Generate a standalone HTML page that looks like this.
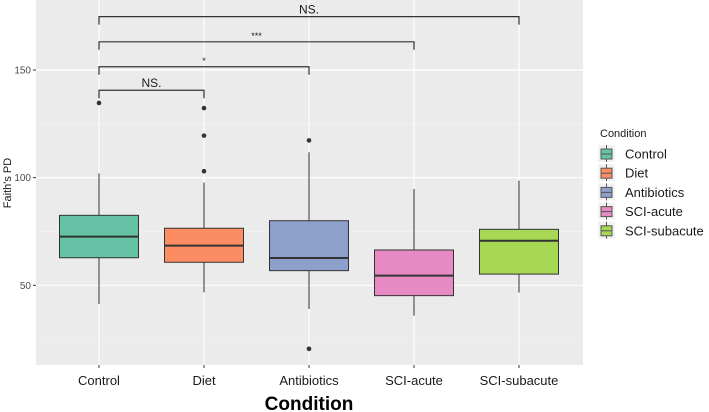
<!DOCTYPE html>
<html><head><meta charset="utf-8"><style>
body{margin:0;background:#fff;width:709px;height:412px;overflow:hidden}
svg{display:block;font-family:"Liberation Sans",sans-serif}
</style></head><body>
<svg id="chart" width="709" height="412"></svg>
<script>
const categories=["Control","Diet","Antibiotics","SCI-acute","SCI-subacute"];
const colors=["#66c2a5","#fc8d62","#8da0cb","#e78ac3","#a6d854"];
const whiskerLow=[41.3,46.7,39,35.9,46.6];
const q1=[62.8,60.7,56.8,45.2,55.2];
const medians=[72.6,68.4,62.7,54.5,70.7];
const q3=[82.5,76.5,80,66.4,76];
const whiskerHigh=[102,97.7,111.8,94.7,98.6];
const outliers=[[134.7],[132.3,119.5,103],[117.3,20.5],[],[]];
const yTicks=[50,100,150];
const yMinor=[25,75,125];
const brackets=[{a:0,b:4,y:174.8,label:"NS."},{a:0,b:3,y:163.1,label:"***"},{a:0,b:2,y:151.5,label:"*"},{a:0,b:1,y:140.6,label:"NS."}];
const svg=document.getElementById('chart');
const NS='http://www.w3.org/2000/svg';
const L=36,R=583,T=0,B=365;
const y=v=>285.3-(v-50)*2.153;
const x=i=>99+i*105;
function mk(tag,attrs,parent){const e=document.createElementNS(NS,tag);for(const k in attrs)e.setAttribute(k,attrs[k]);(parent||svg).appendChild(e);return e;}
const panel=mk('rect',{x:L,y:T,width:R-L,height:B-T,fill:'#ebebeb'});


yMinor.forEach(v=>{const g=mk('line',{x1:L,x2:R,y1:y(v),y2:y(v),stroke:'#f5f5f5','stroke-width':0.6});

});
yTicks.forEach(v=>{const g=mk('line',{x1:L,x2:R,y1:y(v),y2:y(v),stroke:'#fff','stroke-width':1.2});


mk('line',{x1:L-3,x2:L,y1:y(v),y2:y(v),stroke:'#333'});
const t=mk('text',{x:L-5,y:y(v)+3.5,'text-anchor':'end','font-size':10,fill:'#4d4d4d'});t.textContent=v;

});
categories.forEach((c,i)=>{const g=mk('line',{x1:x(i),x2:x(i),y1:T,y2:B,stroke:'#fff','stroke-width':1.2});

});
categories.forEach((c,i)=>{
const grp=mk('g',{});


mk('line',{x1:x(i),x2:x(i),y1:y(whiskerHigh[i]),y2:y(q3[i]),stroke:'#333','stroke-width':1},grp);
mk('line',{x1:x(i),x2:x(i),y1:y(q1[i]),y2:y(whiskerLow[i]),stroke:'#333','stroke-width':1},grp);
mk('rect',{x:x(i)-39.5,y:y(q3[i]),width:79,height:y(q1[i])-y(q3[i]),fill:colors[i],stroke:'#333','stroke-width':1},grp);
mk('line',{x1:x(i)-39.5,x2:x(i)+39.5,y1:y(medians[i]),y2:y(medians[i]),stroke:'#333','stroke-width':2},grp);
outliers[i].forEach(o=>{const p=mk('circle',{cx:x(i),cy:y(o),r:2.3,fill:'#333'},grp);

});
mk('line',{x1:x(i),x2:x(i),y1:B,y2:B+3,stroke:'#333'});
const t=mk('text',{x:x(i),y:385,'text-anchor':'middle','font-size':13,fill:'#1a1a1a'});t.textContent=c;


});
brackets.forEach(b=>{const yy=y(b.y);
const p=mk('path',{d:`M${x(b.a)},${yy+8}V${yy}H${x(b.b)}V${yy+8}`,fill:'none',stroke:'#333','stroke-width':1.2});


const t=mk('text',{x:(x(b.a)+x(b.b))/2,y:yy-3,'text-anchor':'middle','font-size':b.label==='NS.'?12:9,fill:'#1a1a1a'});t.textContent=b.label;

});
const yt=mk('text',{transform:'translate(11,183) rotate(-90)','text-anchor':'middle','font-size':11,fill:'#1a1a1a'});yt.textContent="Faith's PD";


const xt=mk('text',{x:309,y:410,'text-anchor':'middle','font-size':19,'font-weight':'bold',fill:'#000'});xt.textContent='Condition';


const lt=mk('text',{x:600,y:137,'font-size':11,fill:'#1a1a1a'});lt.textContent='Condition';


categories.forEach((c,i)=>{const cy=154+i*19.2;
const g=mk('g',{});


mk('rect',{x:598,y:cy-9,width:17,height:17,fill:'#f2f2f2'},g);
mk('line',{x1:606.5,x2:606.5,y1:cy-9,y2:cy+8,stroke:'#555'},g);
mk('rect',{x:601,y:cy-5,width:11,height:10,fill:colors[i],stroke:'#555'},g);
mk('line',{x1:601,x2:612,y1:cy,y2:cy,stroke:'#555'},g);
const t=mk('text',{x:625,y:cy+4.5,'font-size':13,fill:'#1a1a1a'},g);t.textContent=c;});
</script>
</body></html>
